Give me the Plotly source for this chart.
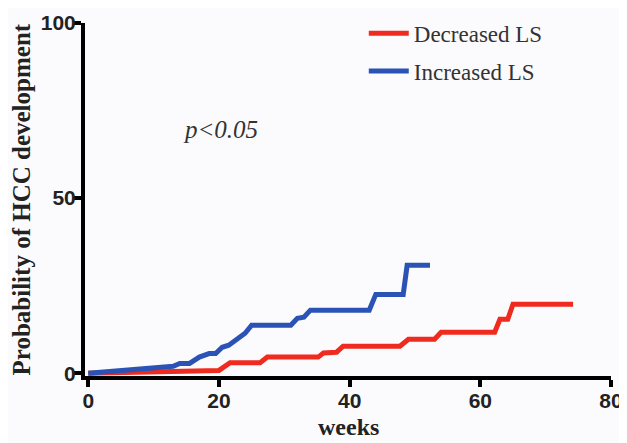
import plotly.graph_objects as go

# Data (weeks, probability %)
dec_weeks = [0, 12, 20, 21.7, 26.3, 27.4, 35.2, 36, 38, 39, 47.7, 49, 53, 54, 62.2, 63, 64.2, 65, 74.2]
dec_prob = [0, 0.4, 0.8, 3, 3, 4.6, 4.6, 5.8, 6, 7.7, 7.7, 9.7, 9.7, 11.7, 11.7, 15.4, 15.4, 19.7, 19.7]

inc_weeks = [0, 13, 14, 15.5, 17, 18.5, 19.5, 20.5, 21.5, 23, 24, 25, 31, 32, 33, 34, 43, 44, 48.2, 48.8, 52.3]
inc_prob = [0, 2, 2.8, 2.8, 4.6, 5.6, 5.6, 7.4, 8, 10.3, 11.4, 13.7, 13.7, 15.7, 16, 18, 18, 22.5, 22.5, 30.8, 30.8]

x_ticks = [0, 20, 40, 60, 80]
y_ticks = [0, 50, 100]

RED = "#ef2b1f"
BLUE = "#2b53b6"

fig = go.Figure()
fig.add_trace(go.Scatter(x=dec_weeks, y=dec_prob, mode="lines", name="Decreased LS",
                         line=dict(color=RED, width=5), legendgroup="a"))
fig.add_trace(go.Scatter(x=inc_weeks, y=inc_prob, mode="lines", name="Increased LS",
                         line=dict(color=BLUE, width=5), legendgroup="b"))

axis_font = dict(family="Liberation Sans, Arial", size=21, color="#222222", weight="bold")

fig.update_xaxes(range=[-0.5, 80], tickvals=x_ticks, ticktext=[str(v) for v in x_ticks],
                 showline=True, linecolor="black", linewidth=4, ticks="outside",
                 tickwidth=4, ticklen=7, tickcolor="black", showgrid=False, zeroline=False,
                 tickfont=axis_font, automargin=False, ticklabelstandoff=-4)
fig.update_yaxes(range=[-0.8, 100], tickvals=y_ticks, ticktext=[str(v) for v in y_ticks],
                 showline=True, linecolor="black", linewidth=4, ticks="outside",
                 tickwidth=4, ticklen=7, tickcolor="black", showgrid=False, zeroline=False,
                 tickfont=axis_font, automargin=False, ticklabelstandoff=-6)

fig.add_annotation(text="<b>Probability of HCC development</b>", xref="paper", yref="paper",
                   x=0, y=0.5, xanchor="center", yanchor="middle", xshift=-64, textangle=-90,
                   showarrow=False, font=dict(family="Liberation Serif, Times New Roman", size=25, color="#222222"))
fig.add_annotation(text="<b>weeks</b>", xref="paper", yref="paper",
                   x=0.5, y=0, xanchor="center", yanchor="middle", yshift=-51, borderpad=0,
                   showarrow=False, font=dict(family="Liberation Serif, Times New Roman", size=24, color="#222222"))
fig.add_annotation(text="<i>p&lt;0.05</i>", xref="x", yref="y", x=20.2, y=69.5,
                   xanchor="center", yanchor="middle", showarrow=False,
                   font=dict(family="Liberation Serif, Times New Roman", size=25, color="#333333"))

fig.update_layout(
    width=619, height=435,
    margin=dict(l=77, r=16, t=15, b=67, autoexpand=False),
    plot_bgcolor="#fbfbfd", paper_bgcolor="#fbfbfd",
    showlegend=True,
    legend=dict(x=0.53, y=1.032, xanchor="left", yanchor="top", bgcolor="rgba(0,0,0,0)",
                font=dict(family="Liberation Serif, Times New Roman", size=23, color="#333333"),
                tracegroupgap=5, itemwidth=40),
)

fig.write_html("out.html")
